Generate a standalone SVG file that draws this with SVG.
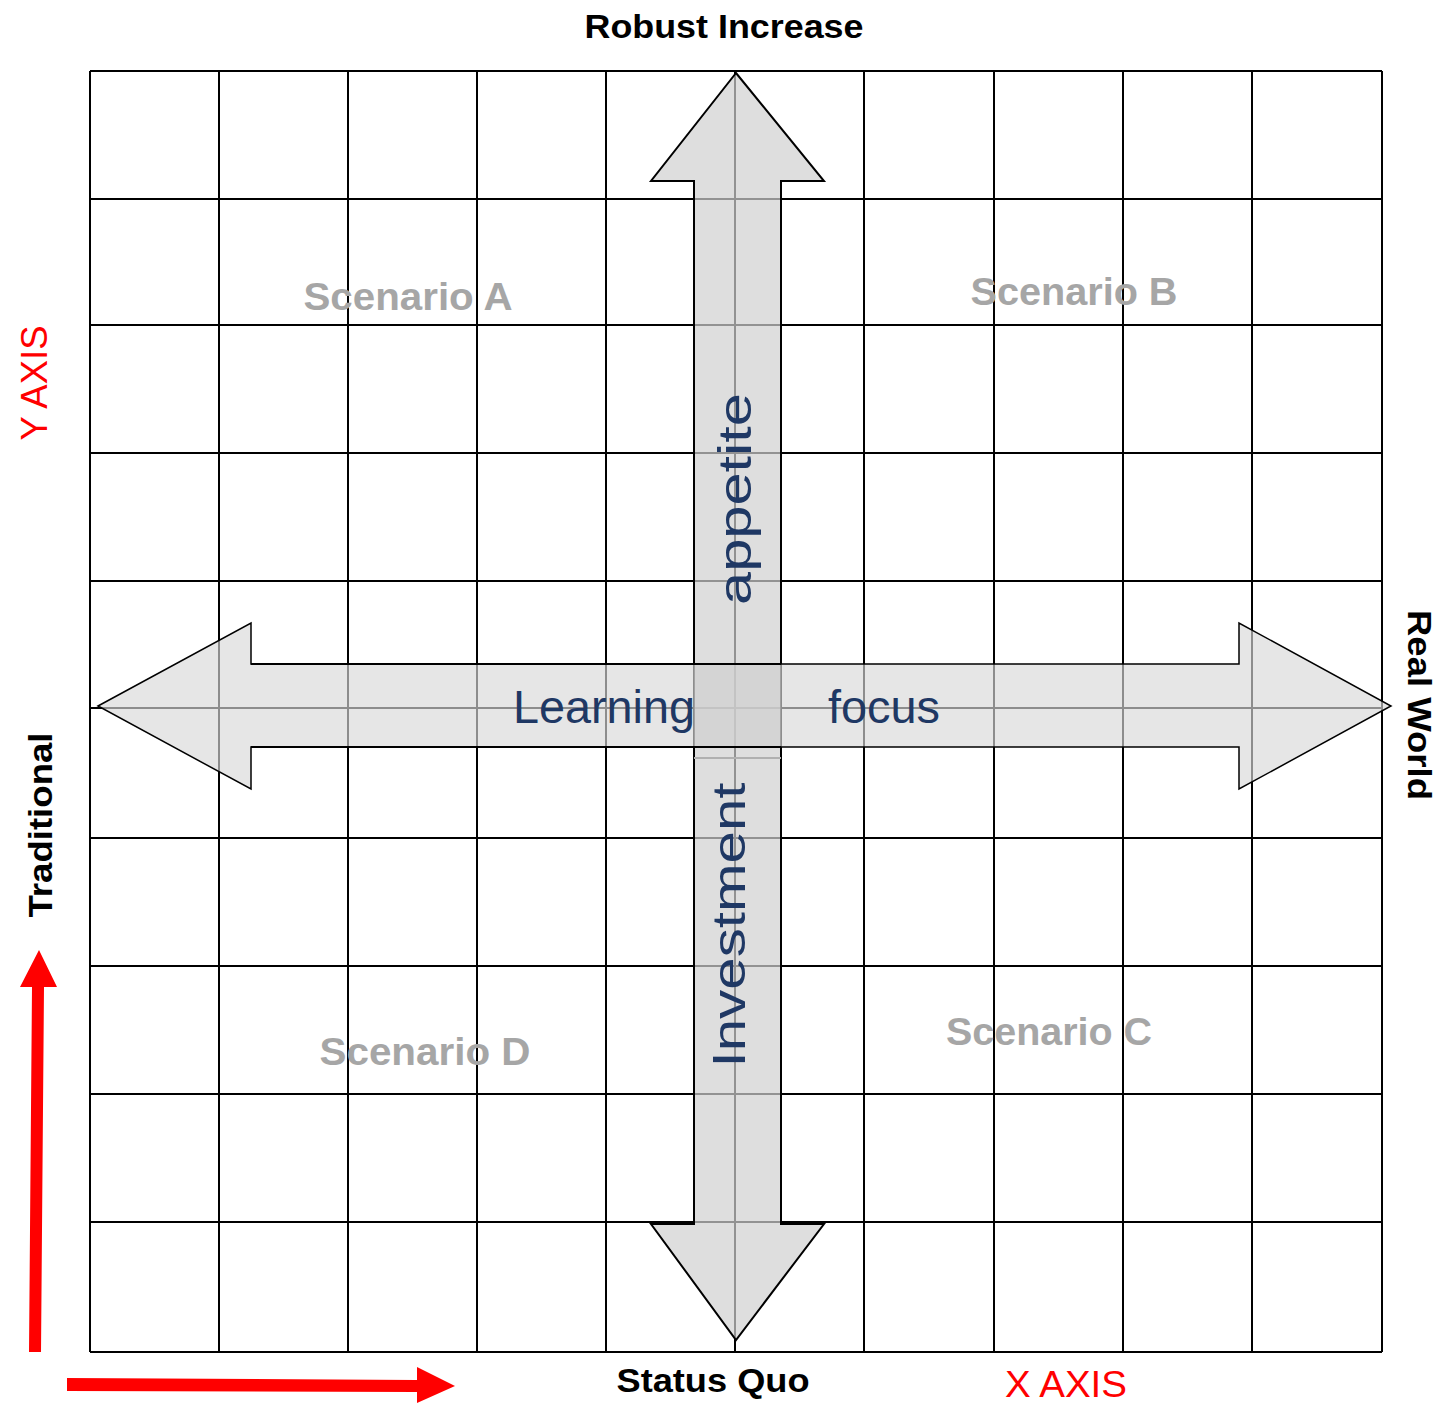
<svg xmlns="http://www.w3.org/2000/svg" width="1450" height="1403" viewBox="0 0 1450 1403">
<style>
.grid line{stroke:#000;stroke-width:2}
.lbl{font-family:"Liberation Sans",Arial,sans-serif;font-weight:bold;fill:#000}
.scn{font-family:"Liberation Sans",Arial,sans-serif;font-weight:bold;fill:#a6a6a6;font-size:38px}
.blue{font-family:"Liberation Sans",Arial,sans-serif;fill:#1f3864;font-size:46px}
.red{font-family:"Liberation Sans",Arial,sans-serif;fill:#ff0000;font-size:37px}
</style>
<rect width="1450" height="1403" fill="#fff"/>
<g id="grid" class="grid">
<line x1="90" y1="71" x2="90" y2="1352"/>
<line x1="219" y1="71" x2="219" y2="1352"/>
<line x1="348" y1="71" x2="348" y2="1352"/>
<line x1="477" y1="71" x2="477" y2="1352"/>
<line x1="606" y1="71" x2="606" y2="1352"/>
<line x1="735" y1="71" x2="735" y2="1352"/>
<line x1="864" y1="71" x2="864" y2="1352"/>
<line x1="994" y1="71" x2="994" y2="1352"/>
<line x1="1123" y1="71" x2="1123" y2="1352"/>
<line x1="1252" y1="71" x2="1252" y2="1352"/>
<line x1="1382" y1="71" x2="1382" y2="1352"/>
<line x1="90" y1="71" x2="1382" y2="71"/>
<line x1="90" y1="199" x2="1382" y2="199"/>
<line x1="90" y1="325" x2="1382" y2="325"/>
<line x1="90" y1="453" x2="1382" y2="453"/>
<line x1="90" y1="581" x2="1382" y2="581"/>
<line x1="90" y1="708" x2="1382" y2="708"/>
<line x1="90" y1="838" x2="1382" y2="838"/>
<line x1="90" y1="966" x2="1382" y2="966"/>
<line x1="90" y1="1094" x2="1382" y2="1094"/>
<line x1="90" y1="1222" x2="1382" y2="1222"/>
<line x1="90" y1="1352" x2="1382" y2="1352"/>
</g>
<g id="vertical-arrow">
<path d="M736,73 L824,181 L781,181 L781,1224 L824,1224 L736,1340 L651,1224 L694,1224 L694,181 L651,181 Z" fill="#d0d0d0" fill-opacity="0.7" stroke="#000" stroke-width="2" stroke-linejoin="miter"/>
<line x1="694" y1="758" x2="781" y2="758" stroke="#b0b0b0" stroke-width="2"/>
</g>
<g id="horizontal-arrow">
<path d="M98,706 L251,623 L251,664 L1239,664 L1239,623 L1391,706 L1239,789 L1239,747 L251,747 L251,789 Z" fill="#d8d8d8" fill-opacity="0.65" stroke="#000" stroke-width="1.5"/>
<rect x="694" y="664" width="87" height="83" fill="#c8c8c8" fill-opacity="0.35"/>
<line x1="251" y1="664" x2="781" y2="664" stroke="#000" stroke-width="2"/>
<line x1="251" y1="747" x2="781" y2="747" stroke="#000" stroke-width="2"/>
</g>
<g id="red-axes">
<polygon points="29,1352 41,1352 44,987 57,987 39,950 20,987 32,987" fill="#ff0000"/>
<polygon points="67,1378 417,1380 417,1367 455,1386 417,1403 417,1392 67,1391" fill="#ff0000"/>
</g>
<g id="labels">
<text class="lbl" x="724" y="38" font-size="34" text-anchor="middle" textLength="279" lengthAdjust="spacingAndGlyphs">Robust Increase</text>
<text class="lbl" x="713" y="1392" font-size="34" text-anchor="middle" textLength="193" lengthAdjust="spacingAndGlyphs">Status Quo</text>
<text class="lbl" transform="translate(52,825) rotate(-90)" font-size="34" text-anchor="middle" textLength="185" lengthAdjust="spacingAndGlyphs">Traditional</text>
<text class="lbl" transform="translate(1408,705) rotate(90)" font-size="34" text-anchor="middle" textLength="190" lengthAdjust="spacingAndGlyphs">Real World</text>
<text class="red" x="1066" y="1397" text-anchor="middle" textLength="122" lengthAdjust="spacingAndGlyphs">X AXIS</text>
<text class="red" transform="translate(47,383) rotate(-90)" text-anchor="middle" textLength="115" lengthAdjust="spacingAndGlyphs">Y AXIS</text>
</g>
<g id="scenarios">
<text class="scn" x="408" y="310" text-anchor="middle" textLength="209" lengthAdjust="spacingAndGlyphs">Scenario A</text>
<text class="scn" x="1074" y="305" text-anchor="middle" textLength="207" lengthAdjust="spacingAndGlyphs">Scenario B</text>
<text class="scn" x="1049" y="1045" text-anchor="middle" textLength="206" lengthAdjust="spacingAndGlyphs">Scenario C</text>
<text class="scn" x="425" y="1065" text-anchor="middle" textLength="211" lengthAdjust="spacingAndGlyphs">Scenario D</text>
</g>
<g id="arrow-text">
<text class="blue" x="604" y="723" text-anchor="middle" textLength="182" lengthAdjust="spacingAndGlyphs">Learning</text>
<text class="blue" x="884" y="723" text-anchor="middle" textLength="112" lengthAdjust="spacingAndGlyphs">focus</text>
<text class="blue" transform="translate(751,499) rotate(-90)" text-anchor="middle" textLength="212" lengthAdjust="spacingAndGlyphs">appetite</text>
<text class="blue" transform="translate(745,925) rotate(-90)" text-anchor="middle" textLength="285" lengthAdjust="spacingAndGlyphs">Investment</text>
</g>
</svg>
